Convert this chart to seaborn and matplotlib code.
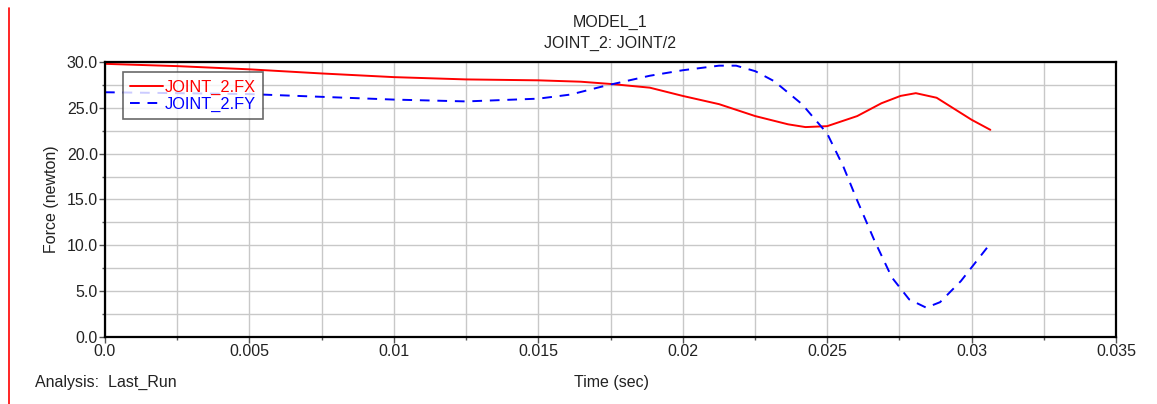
import numpy as np
import pandas as pd
import matplotlib
matplotlib.use("Agg")
import matplotlib.pyplot as plt
from matplotlib.ticker import MultipleLocator, FixedFormatter, FixedLocator
from matplotlib.lines import Line2D
import seaborn as sns

# ---- data ----
fx_time = [0.0, 0.0025, 0.005, 0.0075, 0.01, 0.0125, 0.015, 0.01647, 0.01752, 0.01886,
           0.02, 0.02126, 0.02251, 0.02365, 0.02425, 0.025, 0.02604, 0.02688, 0.02754,
           0.02807, 0.02879, 0.03, 0.03065]
fx_vals = [29.8, 29.55, 29.2, 28.75, 28.35, 28.1, 28.0, 27.85, 27.6, 27.2,
           26.3, 25.4, 24.1, 23.2, 22.9, 23.0, 24.1, 25.5, 26.3,
           26.6, 26.1, 23.7, 22.6]

fy_time = [0.0, 0.0025, 0.005, 0.0075, 0.01, 0.0125, 0.015, 0.01612, 0.01718, 0.01752,
           0.01886, 0.02, 0.02126, 0.02185, 0.02251, 0.02317, 0.02413, 0.025, 0.02556,
           0.02604, 0.02664, 0.02724, 0.02784, 0.02843, 0.02891, 0.02963, 0.03065]
fy_vals = [26.7, 26.6, 26.5, 26.2, 25.9, 25.7, 26.0, 26.45, 27.3, 27.55,
           28.5, 29.1, 29.6, 29.6, 29.0, 27.9, 25.4, 22.2, 18.6,
           14.9, 10.5, 6.5, 4.1, 3.2, 3.8, 6.1, 10.2]

series_names = ["JOINT_2.FX", "JOINT_2.FY"]
x_ticks = [0.0, 0.005, 0.01, 0.015, 0.02, 0.025, 0.03, 0.035]
x_tick_labels = ["0.0", "0.005", "0.01", "0.015", "0.02", "0.025", "0.03", "0.035"]
y_ticks = [0.0, 5.0, 10.0, 15.0, 20.0, 25.0, 30.0]
y_tick_labels = ["0.0", "5.0", "10.0", "15.0", "20.0", "25.0", "30.0"]

sns.set_style("white")
plt.rcParams['font.family'] = ['Liberation Sans', 'DejaVu Sans']

fig = plt.figure(figsize=(11.57, 4.04), dpi=100)
ax = fig.add_axes([105/1157, 1-337/404, (1116-105)/1157, (337-62)/404])

df_fx = pd.DataFrame({"t": fx_time, "v": fx_vals})
df_fy = pd.DataFrame({"t": fy_time, "v": fy_vals})

sns.lineplot(data=df_fx, x="t", y="v", ax=ax, color="#ff0000", lw=1.4,
             label=series_names[0], estimator=None, sort=True)
sns.lineplot(data=df_fy, x="t", y="v", ax=ax, color="#0000ff", lw=1.4,
             label=series_names[1], estimator=None, sort=True, dashes=False,
             linestyle=(0, (5, 4)))

ax.set_xlim(0, 0.035)
ax.set_ylim(0, 30)
ax.xaxis.set_major_locator(FixedLocator(x_ticks))
ax.xaxis.set_major_formatter(FixedFormatter(x_tick_labels))
ax.yaxis.set_major_locator(FixedLocator(y_ticks))
ax.yaxis.set_major_formatter(FixedFormatter(y_tick_labels))
ax.xaxis.set_minor_locator(MultipleLocator(0.0025))
ax.yaxis.set_minor_locator(MultipleLocator(2.5))

ax.grid(True, which="both", color="#c8c8c8", lw=1.0)
ax.set_axisbelow(True)
for s in ax.spines.values():
    s.set_color("black")
    s.set_linewidth(1.6)

ax.tick_params(axis="both", which="major", direction="out", length=4, width=1,
               color="#555555", labelsize=11.5, labelcolor="#222222", pad=1)
ax.tick_params(axis="both", which="minor", direction="out", length=2.5, width=1,
               color="#555555")
ax.tick_params(bottom=True, left=True, which="both")

ax.set_xlabel("")
ax.set_ylabel("Force (newton)", fontsize=11.5, color="#222222", labelpad=6)

fig.text(610/1157, 1-22/404, "MODEL_1", ha="center", va="center", fontsize=11.5, color="#222222")
fig.text(610/1157, 1-43/404, "JOINT_2: JOINT/2", ha="center", va="center", fontsize=11.5, color="#222222")
fig.text(35/1157, 1-382/404, "Analysis:  Last_Run", ha="left", va="center", fontsize=11.5, color="#222222")
fig.text(612/1157, 1-382/404, "Time (sec)", ha="center", va="center", fontsize=11.5, color="#222222")

# red vertical marker at left edge of the window
fig.add_artist(Line2D([9/1157, 9/1157], [0, 1-8/404], color="#ff0000", lw=1.2))

leg = ax.legend(loc="upper left", bbox_to_anchor=(18/1011, 1-10/275), frameon=True,
                fancybox=False, shadow=False, fontsize=11.8, handlelength=2.0,
                handletextpad=0.1, borderpad=0.45, labelspacing=0.12, borderaxespad=0)
leg.get_frame().set_edgecolor("#444444")
leg.get_frame().set_linewidth(1.2)
for txt, c in zip(leg.get_texts(), ["#ff0000", "#0000ff"]):
    txt.set_color(c)

fig.savefig("out.png", dpi=100, facecolor="white")
